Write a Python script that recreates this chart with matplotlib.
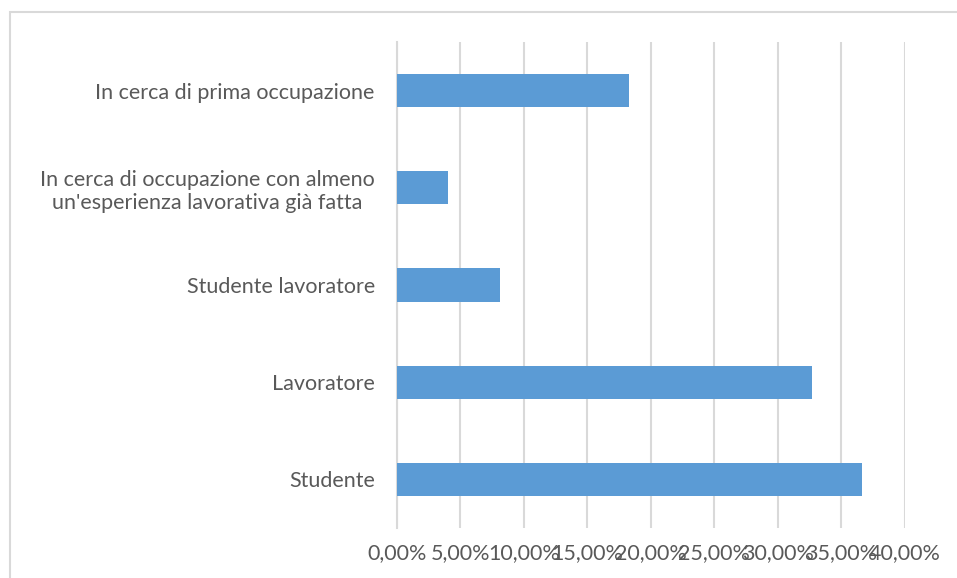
import matplotlib.pyplot as plt
from matplotlib.patches import Rectangle
from matplotlib.ticker import FuncFormatter

categories = [
    "Studente",
    "Lavoratore",
    "Studente lavoratore",
    "In cerca di occupazione con almeno\nun'esperienza lavorativa già fatta",
    "In cerca di prima occupazione",
]
values = [36.6, 32.7, 8.1, 4.0, 18.3]
x_ticks = [0, 5, 10, 15, 20, 25, 30, 35, 40]

plt.rcParams['font.family'] = ['Lato', 'DejaVu Sans']

fig = plt.figure(figsize=(9.57, 5.78), dpi=100)
ax = fig.add_axes([397 / 957, 1 - 528 / 578, (904.7 - 397) / 957, (528 - 42) / 578])

# chart frame like the spreadsheet object border
fig.patches.append(Rectangle((10 / 957, -0.1), 1.1, 1.1 - 12 / 578,
                             transform=fig.transFigure, fill=False,
                             edgecolor='#d9d9d9', linewidth=1.5))

ax.barh(range(len(categories)), values, height=0.34, color='#5b9bd5', zorder=3)

ax.set_xlim(0, 40)
ax.set_ylim(-0.5, len(categories) - 0.5)
ax.set_xticks(x_ticks)
ax.xaxis.set_major_formatter(FuncFormatter(lambda v, p: f"{v:.2f}%".replace('.', ',')))
ax.set_yticks(range(len(categories)))
ax.set_yticklabels(categories, multialignment='center', linespacing=1.2)

ax.grid(axis='x', color='#d9d9d9', linewidth=1.5, zorder=0)
for s in ['top', 'right', 'bottom']:
    ax.spines[s].set_visible(False)
ax.spines['left'].set_color('#d9d9d9')
ax.spines['left'].set_linewidth(1.5)

ax.tick_params(axis='both', length=0, colors='#595959', labelsize=15.5)
ax.tick_params(axis='x', pad=11)
ax.tick_params(axis='y', pad=16)

fig.savefig('out.png', dpi=100)
